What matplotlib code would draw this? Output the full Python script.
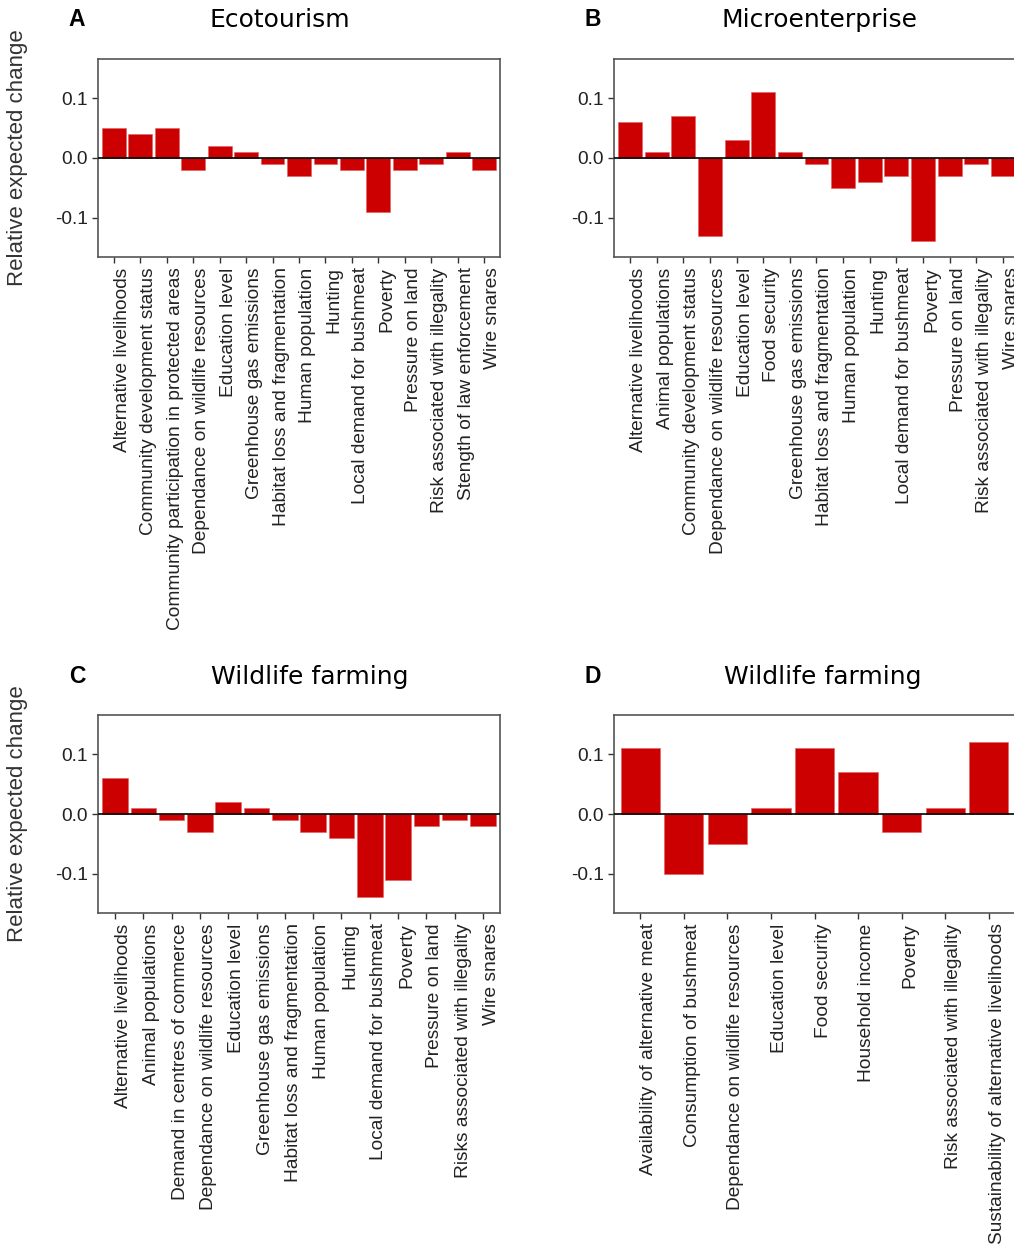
import numpy as np
import matplotlib.pyplot as plt
import matplotlib.transforms as mtransforms

plt.rcParams['font.family'] = ['Liberation Sans', 'DejaVu Sans']

# panel A - Ecotourism
eco_labels = ['Alternative livelihoods', 'Community development status',
              'Community participation in protected areas', 'Dependance on wildlife resources',
              'Education level', 'Greenhouse gas emissions', 'Habitat loss and fragmentation',
              'Human population', 'Hunting', 'Local demand for bushmeat', 'Poverty',
              'Pressure on land', 'Risk associated with illegality',
              'Stength of law enforcement', 'Wire snares']
eco_values = [0.05, 0.04, 0.05, -0.02, 0.02, 0.01, -0.01, -0.03, -0.01, -0.02,
              -0.09, -0.02, -0.01, 0.01, -0.02]

# panel B - Microenterprise
micro_labels = ['Alternative livelihoods', 'Animal populations', 'Community development status',
                'Dependance on wildlife resources', 'Education level', 'Food security',
                'Greenhouse gas emissions', 'Habitat loss and fragmentation', 'Human population',
                'Hunting', 'Local demand for bushmeat', 'Poverty', 'Pressure on land',
                'Risk associated with illegality', 'Wire snares']
micro_values = [0.06, 0.01, 0.07, -0.13, 0.03, 0.11, 0.01, -0.01, -0.05, -0.04,
                -0.03, -0.14, -0.03, -0.01, -0.03]

# panel C - Wildlife farming
farm_labels = ['Alternative livelihoods', 'Animal populations', 'Demand in centres of commerce',
               'Dependance on wildlife resources', 'Education level', 'Greenhouse gas emissions',
               'Habitat loss and fragmentation', 'Human population', 'Hunting',
               'Local demand for bushmeat', 'Poverty', 'Pressure on land',
               'Risks associated with illegality', 'Wire snares']
farm_values = [0.06, 0.01, -0.01, -0.03, 0.02, 0.01, -0.01, -0.03, -0.04, -0.14,
               -0.11, -0.02, -0.01, -0.02]

# panel D - Wildlife farming
farm2_labels = ['Availability of alternative meat', 'Consumption of bushmeat',
                'Dependance on wildlife resources', 'Education level', 'Food security',
                'Household income', 'Poverty', 'Risk associated with illegality',
                'Sustainability of alternative livelihoods']
farm2_values = [0.11, -0.10, -0.05, 0.01, 0.11, 0.07, -0.03, 0.01, 0.12]

W, H = 1014, 1244
fig = plt.figure(figsize=(W / 100, H / 100), dpi=100)
shift = mtransforms.ScaledTranslation(-3 / 100, 0, fig.dpi_scale_trans)


def add_panel(left, right, top, bottom, labels, values, letter, title, lx, tx, ty, ylab):
    ax = fig.add_axes([left / W, 1 - bottom / H, (right - left) / W, (bottom - top) / H])
    x = np.arange(len(labels))
    ax.bar(x, values, width=0.9, color='#CC0000', edgecolor='#E06060', linewidth=0.4, zorder=2)
    ax.axhline(0, color='black', linewidth=1.2, zorder=3)
    ax.set_xlim(-0.6, len(labels) - 0.4)
    ax.set_ylim(-0.166, 0.166)
    ax.set_yticks([-0.1, 0.0, 0.1])
    ax.set_yticklabels(['-0.1', '0.0', '0.1'])
    ax.set_xticks(x)
    ax.set_xticklabels(labels, rotation=90, va='top', ha='left')
    for lab in ax.get_xticklabels():
        lab.set_transform(lab.get_transform() + shift)
    ax.tick_params(axis='both', labelsize=13.8, colors='#333333', length=4, width=1, labelcolor='#222222')
    for s in ax.spines.values():
        s.set_color('#555555')
        s.set_linewidth(1.2)
    fig.text(lx / W, 1 - ty / H, letter, fontsize=16.5, fontweight='bold', ha='center', va='center')
    fig.text(tx / W, 1 - ty / H, title, fontsize=18, family='DejaVu Sans', ha='center', va='center')
    if ylab:
        fig.text(18 / W, 1 - (top + bottom) / 2 / H, 'Relative expected change', rotation=90,
                 fontsize=16, color='#333333', ha='center', va='center')
    return ax


add_panel(98, 500, 59, 257, eco_labels, eco_values, 'A', 'Ecotourism', 77, 280, 20, True)
add_panel(614, 1019, 59, 257, micro_labels, micro_values, 'B', 'Microenterprise', 593, 820, 20, False)
add_panel(98, 500, 715, 913, farm_labels, farm_values, 'C', 'Wildlife farming', 77, 310, 677, True)
add_panel(614, 1015, 715, 913, farm2_labels, farm2_values, 'D', 'Wildlife farming', 593, 823, 677, False)

fig.savefig('out.png', dpi=100)
